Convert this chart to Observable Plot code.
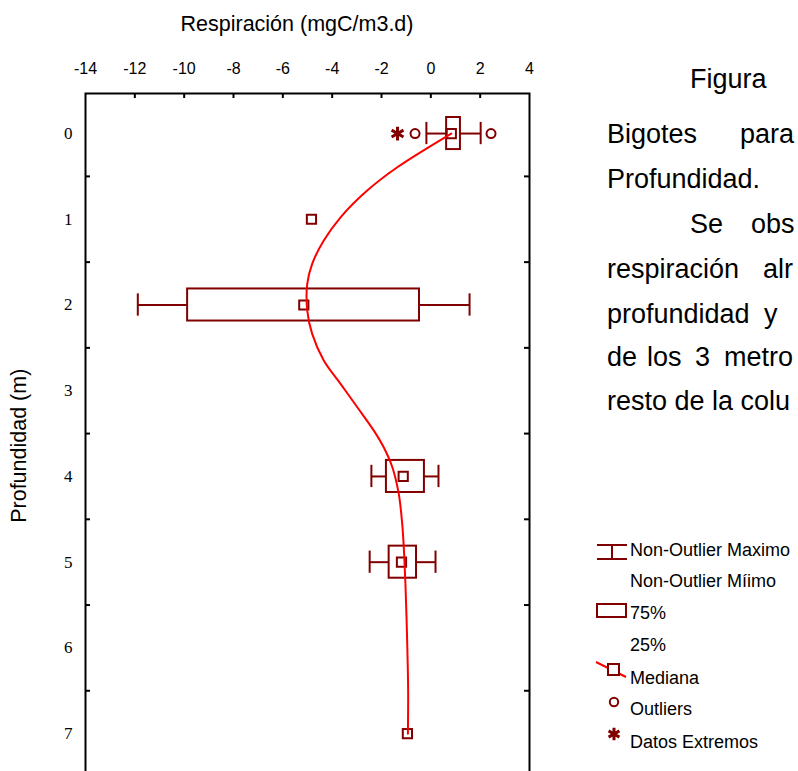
<!DOCTYPE html>
<html><head><meta charset="utf-8">
<script src="https://cdn.jsdelivr.net/npm/d3@7"></script>
<script src="https://cdn.jsdelivr.net/npm/@observablehq/plot@0.6"></script>
<style>
html,body{margin:0;padding:0;overflow:hidden;background:#fff;width:798px;height:771px}
#wrap{position:relative;width:798px;height:771px;overflow:hidden;font-family:"Liberation Sans",Arial,sans-serif}
#wrap svg{position:absolute;left:0;top:0}
.t{position:absolute;white-space:nowrap;color:#000;line-height:1}
</style></head><body><div id="wrap"></div>
<script>
// ---- data ----
const xTicks = [-14,-12,-10,-8,-6,-4,-2,0,2,4];
const depthTicks = [0,1,2,3,4,5,6,7];
const depthBounds = [0.5,1.5,2.5,3.5,4.5,5.5,6.5];

const boxDepth   = [0, 2, 4, 5];
const boxQ1      = [0.64, -9.86, -1.80, -1.69];
const boxQ3      = [1.20, -0.46, -0.26, -0.58];
const whiskerMin = [-0.18, -11.88, -2.41, -2.48];
const whiskerMax = [2.02, 1.57, 0.31, 0.19];

const medianDepth = [0, 1, 2, 4, 5, 7];
const medianValue = [0.83, -4.84, -5.15, -1.12, -1.19, -0.95];

const outlierDepth = [0, 0];
const outlierValue = [-0.64, 2.44];
const extremeDepth = [0];
const extremeValue = [-1.35];

const curveDepth = [0, 0.393, 0.665, 0.977, 1.248, 1.520, 1.754, 2.065, 2.337, 2.648, 2.920, 3.193, 3.465, 3.660, 3.893, 4.204, 4.554, 4.865, 5.250, 5.915, 6.499, 7];
const curveValue = [0.83, -1.36, -2.58, -3.66, -4.34, -4.81, -5.01, -5.01, -4.81, -4.34, -3.66, -2.98, -2.31, -1.91, -1.56, -1.30, -1.16, -1.09, -1.03, -0.96, -0.92, -0.93];

const legendLabels = ["Non-Outlier Maximo","Non-Outlier Míimo","75%","25%","Mediana","Outliers","Datos Extremos"];
const paragraphLines = [
  ["Figura"],
  ["Bigotes","para"],
  ["Profundidad."],
  ["Se","obs"],
  ["respiración","alr"],
  ["profundidad","y"],
  ["de","los","3","metro"],
  ["resto de la colu"]
];
const titleX = "Respiración (mgC/m3.d)";
const titleY = "Profundidad (m)";

// ---- build tables ----
const boxes = boxDepth.map((d,i)=>({depth:d,q1:boxQ1[i],q3:boxQ3[i],lo:whiskerMin[i],hi:whiskerMax[i]}));
const medians = medianDepth.map((d,i)=>({depth:d,v:medianValue[i]}));
const outliers = outlierDepth.map((d,i)=>({depth:d,v:outlierValue[i]}));
const extremes = extremeDepth.map((d,i)=>({depth:d,v:extremeValue[i]}));
const curve = curveDepth.map((d,i)=>({depth:d,v:curveValue[i]}));

const W=798, H=790, mL=85, mR=269, mT=93, mB=14;
const frameW=W-mL-mR, frameH=H-mT-mB;
const BOXH=0.187, CAPH=0.13;
const DR="#800000";
const fmt = d=>String(d);

const chart = Plot.plot({
  width:W, height:H, marginLeft:mL, marginRight:mR, marginTop:mT, marginBottom:mB,
  x:{domain:[-14,4]},
  y:{domain:[-0.467,7.5], reverse:true},
  style:{fontFamily:"'Liberation Sans', Arial, sans-serif", background:"transparent", overflow:"visible"},
  marks:[
    Plot.axisX({anchor:"top", ticks:xTicks, tickSize:0, tickPadding:20, fontSize:16, label:null, tickFormat:fmt}),
    Plot.axisY({anchor:"left", ticks:depthTicks, tickSize:0, tickPadding:13, fontSize:17, fontFamily:"'Liberation Serif','Times New Roman',serif", label:null, tickFormat:fmt}),
    Plot.tickX(xTicks.slice(1,-1), {x:d=>d, insetBottom:frameH-5, stroke:"black", strokeWidth:2}),
    Plot.tickY(depthBounds, {y:d=>d, insetRight:frameW-5, stroke:"black", strokeWidth:2}),
    Plot.tickY(depthBounds, {y:d=>d, insetLeft:frameW-5, stroke:"black", strokeWidth:2}),
    Plot.ruleY(boxes, {y:"depth", x1:"lo", x2:"q1", stroke:DR, strokeWidth:2}),
    Plot.ruleY(boxes, {y:"depth", x1:"q3", x2:"hi", stroke:DR, strokeWidth:2}),
    Plot.ruleX(boxes, {x:"lo", y1:d=>d.depth-CAPH, y2:d=>d.depth+CAPH, stroke:DR, strokeWidth:2}),
    Plot.ruleX(boxes, {x:"hi", y1:d=>d.depth-CAPH, y2:d=>d.depth+CAPH, stroke:DR, strokeWidth:2}),
    Plot.rect(boxes, {x1:"q1", x2:"q3", y1:d=>d.depth-BOXH, y2:d=>d.depth+BOXH, fill:"none", stroke:DR, strokeWidth:2}),
    Plot.dot(medians, {x:"v", y:"depth", symbol:"square", r:5.2, fill:"none", stroke:DR, strokeWidth:2}),
    Plot.dot(outliers, {x:"v", y:"depth", r:4.5, fill:"none", stroke:DR, strokeWidth:2}),
    Plot.dot(extremes, {x:"v", y:"depth", symbol:"asterisk", r:6.5, stroke:DR, strokeWidth:3}),
    Plot.line(curve, {x:"v", y:"depth", curve:"catmull-rom", stroke:"#ff0000", strokeWidth:2}),
    Plot.frame({stroke:"black", strokeWidth:2})
  ]
});
const wrap = document.getElementById("wrap");
wrap.appendChild(chart);

function addText(txt, left, top, size, extra){
  const el=document.createElement("div");
  el.className="t"; el.textContent=txt;
  el.style.left=left+"px"; el.style.top=top+"px"; el.style.fontSize=size+"px";
  if(extra) Object.assign(el.style, extra);
  wrap.appendChild(el); return el;
}
// axis titles
const tx = addText(titleX, 0, 14, 21.5);
tx.style.left = (297 - tx.offsetWidth/2)+"px";
const ty = addText(titleY, 0, 0, 21.5, {transformOrigin:"center center"});
ty.style.left = (20 - ty.offsetWidth/2)+"px";
ty.style.top = (446 - ty.offsetHeight/2)+"px";
ty.style.transform = "rotate(-90deg)";

// paragraph
const pSize=27;
const lineCenter = [79,134,179,224,269,314,357,401];
const wordX = [[690],[607,740],[607],[690,751],[607,763],[607,764],[607,647,695,724],[607]];
paragraphLines.forEach((ws,i)=>ws.forEach((w,j)=>addText(w, wordX[i][j], lineCenter[i]-pSize/2, pSize)));

// legend
const lsvg = d3.create("svg").attr("width",W).attr("height",771).style("pointer-events","none");
const legY=[550,581,613,645,678,709,742];
legendLabels.forEach((l,i)=>addText(l, 630, legY[i]-9, 18));
const g=lsvg.append("g").attr("fill","none").attr("stroke",DR).attr("stroke-width",2);
g.append("path").attr("d","M597,545H627M612,545V559M597,559H627");
g.append("rect").attr("x",597).attr("y",604).attr("width",29).attr("height",13);
g.append("path").attr("d","M596,662L626,677").attr("stroke","#ff0000");
g.append("rect").attr("x",608).attr("y",664).attr("width",11).attr("height",11).attr("fill","white");
g.append("circle").attr("cx",614).attr("cy",702).attr("r",4.2);
g.append("path").attr("d",d3.symbol(d3.symbolAsterisk, 110)()).attr("transform","translate(614,734)").attr("stroke-width",3);
wrap.appendChild(lsvg.node());
</script></body></html>
